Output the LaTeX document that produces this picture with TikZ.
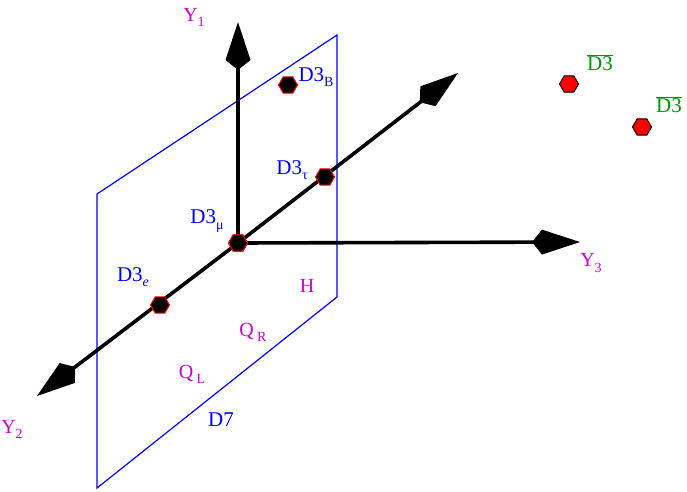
\documentclass[tikz,border=0pt]{standalone}
\usepackage{fontspec}
\setmainfont{Liberation Serif}
\usetikzlibrary{arrows.meta,shapes.geometric}
\definecolor{lblmag}{RGB}{204,0,204}
\definecolor{lblgreen}{RGB}{0,150,0}
\newcommand{\lowsub}[1]{\raisebox{-0.55ex}{\fontsize{14}{14}\selectfont #1}}
\begin{document}
\begin{tikzpicture}[x=1pt,y=-1pt,
    axis/.style={line width=3.6pt,-{Kite[length=48pt,width=25pt,inset=10pt]}},
    brane/.style={blue,line width=1.2pt},
    dthree/.style={regular polygon,regular polygon sides=6,fill=black,draw=red,
      line width=1pt,minimum size=19pt,inner sep=0pt},
    antid/.style={dthree,fill=red,draw=black},
    maglbl/.style={text=lblmag,font=\fontsize{20}{20}\selectfont,inner sep=0pt},
    bluelbl/.style={text=blue,font=\fontsize{21}{21}\selectfont,inner sep=0pt},
    greenlbl/.style={text=lblgreen,font=\fontsize{21}{21}\selectfont,inner sep=0pt}]
    \useasboundingbox (0,0) rectangle (687,491);
    %plane
    \coordinate (pa) at (97,194);
    \coordinate (pb) at (337,35);
    \coordinate (pc) at (337,297);
    \coordinate (pd) at (97,488);
    \draw[brane] (pa) -- (pb) -- (pc) -- (pd) -- cycle;
    %axis ends
    \coordinate (yone) at (238,22);
    \coordinate (ytwo) at (37,396);
    \coordinate (ythree) at (580,242);
    \coordinate (yfour) at (458,73);
    %branes
    \node[dthree] (dmu) at (238,243) {};
    %axes
    \draw[axis] (dmu.center) -- (yone);
    \draw[axis] (dmu.center) -- (ythree);
    \draw[axis] (dmu.center) -- (ytwo);
    \draw[axis] (dmu.center) -- (yfour);
    \node[dthree] (dmu) at (238,243) {};
    \node[dthree] (dtau) at (325,177) {};
    \node[dthree] (de) at (160,305) {};
    \node[dthree] (dB) at (288,85) {};
    \node[antid] (abarone) at (569,84) {};
    \node[antid] (abartwo) at (642,127) {};
    %labels
    \node[maglbl] (lyone) at (194,17) {Y\lowsub{1}};
    \node[maglbl] (lytwo) at (12,429) {Y\lowsub{2}};
    \node[maglbl] (lythree) at (591,263) {Y\lowsub{3}};
    \node[maglbl] (lh) at (307,286) {H};
    \node[maglbl] (lqr) at (253,332) {Q\,\lowsub{R}};
    \node[maglbl] (lql) at (192,374) {Q\,\lowsub{L}};
    \node[bluelbl] (ldB) at (316,77) {D3\lowsub{B}};
    \node[bluelbl] (ldtau) at (292,170) {D3\lowsub{τ}};
    \node[bluelbl] (ldmu) at (207,221) {D3\lowsub{μ}};
    \node[bluelbl] (lde) at (133,277) {D3\lowsub{\itshape e}};
    \node[bluelbl] (ldseven) at (221,420) {D7};
    \node[greenlbl] (lbarone) at (600,63) {$\overline{\mbox{D3}}$};
    \node[greenlbl] (lbartwo) at (669,105) {$\overline{\mbox{D3}}$};
\end{tikzpicture}
\end{document}
